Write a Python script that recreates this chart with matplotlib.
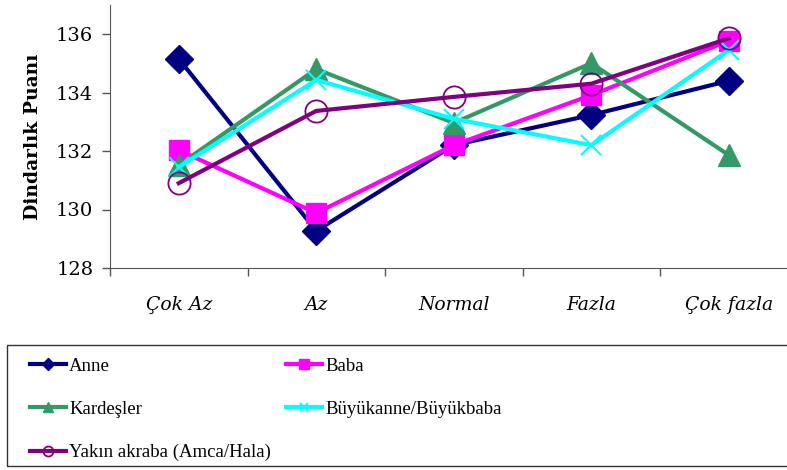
import numpy as np
import matplotlib.pyplot as plt
from matplotlib.patches import Rectangle

plt.rcParams['font.family'] = ['DejaVu Serif']

## data
categories = ['Çok Az', 'Az', 'Normal', 'Fazla', 'Çok fazla']
anne = [135.15, 129.27, 132.2, 133.23, 134.4]
baba = [132.03, 129.88, 132.2, 133.91, 135.77]
kardesler = [131.52, 134.8, 132.96, 135.0, 131.86]
buyuk = [131.45, 134.43, 133.1, 132.2, 135.45]
yakin = [130.9, 133.37, 133.85, 134.3, 135.85]
yticks = [128, 130, 132, 134, 136]

W, H = 787, 470
fig = plt.figure(figsize=(W/100, H/100), dpi=100)
# plot area in pixels: left 110, right 797.5, top 4.75, bottom 268
ax = fig.add_axes([110/W, 1-268/H, 687.5/W, (268-4.75)/H])

x = np.arange(len(categories))
lw = 3
h1, = ax.plot(x, anne, '-', color='#000080', lw=lw, marker='D', ms=14, label='Anne')
h2, = ax.plot(x, baba, '-', color='#FF00FF', lw=lw, marker='s', ms=15, label='Baba')
h3, = ax.plot(x, kardesler, '-', color='#339966', lw=lw, marker='^', ms=16, label='Kardeşler')
h4, = ax.plot(x, buyuk, '-', color='#00FFFF', lw=lw, marker='x', ms=14, mew=1.5, label='Büyükanne/Büyükbaba')
h5, = ax.plot(x, yakin, '-', color='#800080', lw=lw, marker='o', ms=16, mfc='none', mew=1.3, label='Yakın akraba (Amca/Hala)')

ax.set_xlim(-0.5, len(categories)-0.5)
ax.set_ylim(128, 137)
ax.set_yticks(yticks)
ax.set_yticklabels([str(v) for v in yticks], fontsize=14)
ax.set_xticks(x)
ax.set_xticklabels(categories, fontsize=13.5, style='italic')
ax.tick_params(axis='x', length=0, pad=20)
ax.set_xticks(np.arange(len(categories)+1)-0.5, minor=True)
ax.tick_params(axis='x', which='minor', length=6, width=1, color='#555555')
ax.tick_params(axis='y', length=6, width=1, color='#555555', pad=6)
for s in ['top', 'right']:
    ax.spines[s].set_visible(False)
for s in ['left', 'bottom']:
    ax.spines[s].set_color('#555555')
ax.set_ylabel('Dindarlık Puanı', fontsize=13.5, fontweight='bold', labelpad=10)

# legend box
fig.patches.append(Rectangle((7/W, 1-466/H), 790/W, 121/H, transform=fig.transFigure,
                             fill=False, edgecolor='#333333', lw=1))
# row order: Anne, Baba / Kardeşler, Büyükanne / Yakın
handles = [h1, h3, h5, h2, h4]
leg = fig.legend(handles=handles, labels=[h.get_label() for h in handles],
                 loc='upper left', bbox_to_anchor=(13/W, 1-341/H), ncol=2, frameon=False,
                 prop={'family': 'Liberation Serif', 'size': 13.5},
                 handlelength=1.9, handletextpad=0.2, columnspacing=0.8,
                 labelspacing=1.38, markerscale=0.45)

fig.savefig('out.png', dpi=100)
